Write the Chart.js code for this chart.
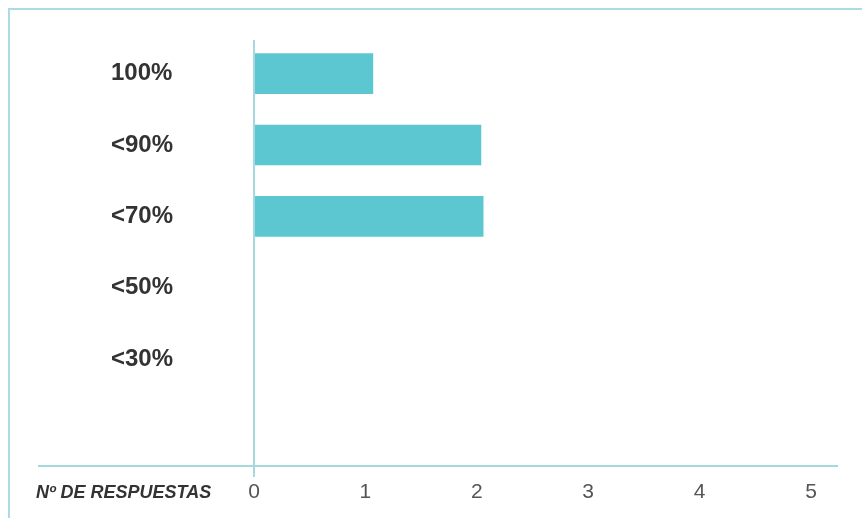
<!DOCTYPE html>
<html>
<head>
<meta charset="utf-8">
<script src="https://cdn.jsdelivr.net/npm/chart.js@4/dist/chart.umd.min.js"></script>
<style>
  html, body { margin: 0; padding: 0; background: #ffffff; }
  #wrap { width: 862px; height: 518px; position: relative; }
</style>
</head>
<body>
<div id="wrap"><canvas id="c" width="862" height="518"></canvas></div>
<script>
const categories = ['100%', '<90%', '<70%', '<50%', '<30%', ''];
const respuestas = [1.07, 2.04, 2.06, 0, 0, null];
const xTicks = [0, 1, 2, 3, 4, 5];
const axisTitle = 'Nº DE RESPUESTAS';

const frameColor = '#a9dce3';
const axisColor = '#a6d9df';

const decor = {
  id: 'decor',
  beforeDraw(chart) {
    const ctx = chart.ctx;
    ctx.save();
    ctx.strokeStyle = frameColor;
    ctx.lineWidth = 2;
    ctx.beginPath();
    ctx.moveTo(9, 518);
    ctx.lineTo(9, 9);
    ctx.lineTo(862, 9);
    ctx.stroke();
    ctx.restore();
  },
  afterDraw(chart) {
    const ctx = chart.ctx;
    const a = chart.chartArea;
    const xs = chart.scales.x;
    const x0 = xs.getPixelForValue(0);
    ctx.save();
    ctx.strokeStyle = axisColor;
    ctx.lineWidth = 2;
    ctx.beginPath();
    ctx.moveTo(38, a.bottom);
    ctx.lineTo(a.right + 27, a.bottom);
    ctx.stroke();
    ctx.beginPath();
    ctx.moveTo(x0, a.top + 2);
    ctx.lineTo(x0, a.bottom + 11);
    ctx.stroke();
    ctx.fillStyle = '#333333';
    ctx.font = 'italic bold 18px "Liberation Sans", Arial, sans-serif';
    ctx.textBaseline = 'middle';
    ctx.textAlign = 'left';
    ctx.fillText(axisTitle, 36, 493);
    ctx.restore();
  }
};

new Chart(document.getElementById('c'), {
  type: 'bar',
  data: {
    labels: categories,
    datasets: [{
      data: respuestas,
      backgroundColor: '#5dc7d1',
      borderWidth: 0,
      barPercentage: 0.57,
      categoryPercentage: 1
    }]
  },
  options: {
    indexAxis: 'y',
    responsive: false,
    animation: false,
    layout: { padding: { left: 111, right: 51, top: 38, bottom: 0 } },
    plugins: { legend: { display: false }, tooltip: { enabled: false } },
    scales: {
      x: {
        min: 0, max: 5,
        afterBuildTicks(s) { s.ticks = xTicks.map(v => ({ value: v })); },
        afterFit(s) { s.height = 52; },
        grid: { display: false, drawTicks: false },
        border: { display: false },
        ticks: {
          color: '#555555',
          font: { family: '"Liberation Sans", Arial, sans-serif', size: 21 },
          padding: 14
        }
      },
      y: {
        afterFit(s) { s.width = 143; },
        grid: { display: false, drawTicks: false },
        border: { display: false },
        ticks: {
          color: '#333333',
          crossAlign: 'far',
          font: { family: '"Liberation Sans", Arial, sans-serif', size: 24, weight: 'bold' },
          padding: 0
        }
      }
    }
  },
  plugins: [decor]
});
</script>
</body>
</html>
